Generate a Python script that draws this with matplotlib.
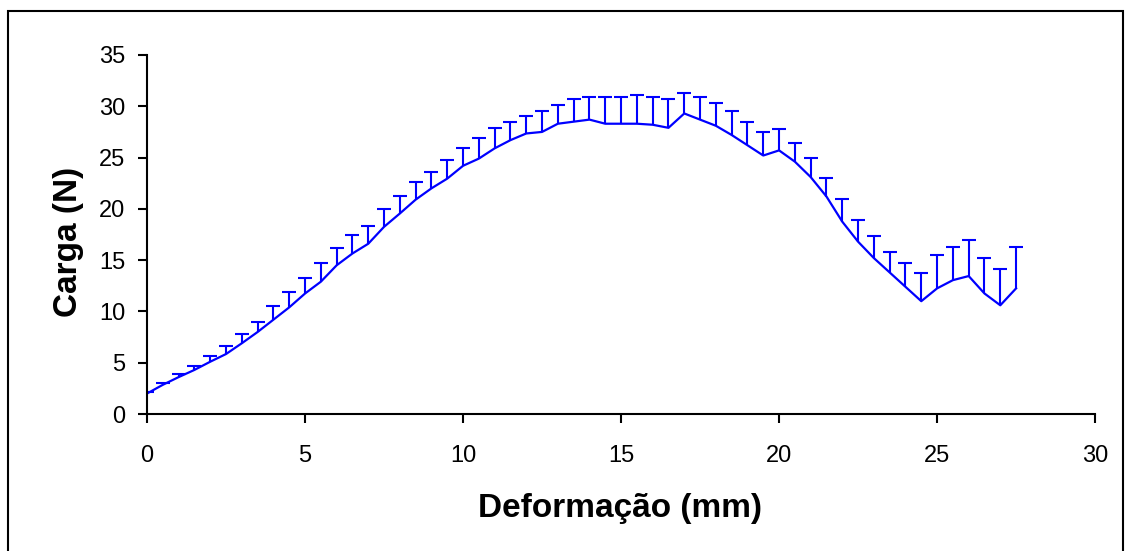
import numpy as np
import matplotlib
matplotlib.use("Agg")
import matplotlib.pyplot as plt
from matplotlib.patches import Rectangle

plt.rcParams['font.family'] = ['Liberation Sans', 'DejaVu Sans']

# deformation steps (mm) and mean load (N), with upper error per step
deformacao = np.arange(0, 28, 0.5)
carga = [2.0, 2.85, 3.6, 4.3, 5.1, 5.85, 6.9, 8.0, 9.2, 10.4,
         11.75, 12.9, 14.5, 15.65, 16.6, 18.25, 19.55, 20.9, 22.0, 22.95,
         24.2, 24.9, 25.9, 26.7, 27.35, 27.5, 28.3, 28.5, 28.7, 28.3,
         28.3, 28.3, 28.2, 27.9, 29.3, 28.7, 28.1, 27.2, 26.2, 25.2,
         25.7, 24.6, 23.1, 21.2, 18.75, 16.8, 15.2, 13.8, 12.4, 11.0,
         12.25, 13.05, 13.45, 11.75, 10.6, 12.25]
erro = [0.1, 0.2, 0.3, 0.4, 0.55, 0.8, 0.9, 1.0, 1.3, 1.5,
        1.55, 1.8, 1.7, 1.85, 1.7, 1.7, 1.7, 1.7, 1.6, 1.8,
        1.7, 2.0, 1.95, 1.8, 1.75, 2.0, 1.8, 2.2, 2.2, 2.6,
        2.6, 2.8, 2.7, 2.8, 1.95, 2.2, 2.2, 2.3, 2.3, 2.3,
        2.05, 1.8, 1.9, 1.8, 2.2, 2.1, 2.2, 2.0, 2.3, 2.7,
        3.25, 3.2, 3.5, 3.5, 3.5, 4.0]

carga = np.array(carga)
topo = carga + np.array(erro)

fig = plt.figure(figsize=(11.32, 5.51), dpi=100)
ax = fig.add_axes([0.1299, 0.2486, 0.8375, 0.6516])

azul = '#0000ff'
ax.plot(deformacao, carga, color=azul, lw=1.6)
# only the upper half of each error bar, with a cap on top
ax.vlines(deformacao, carga, topo, color=azul, lw=1.5)
ax.plot(deformacao, topo, ls='none', marker='_', ms=10.5, mew=1.5, color=azul)

ax.set_xlim(0, 30)
ax.set_ylim(0, 35)
ax.set_xticks(range(0, 31, 5))
ax.set_yticks(range(0, 36, 5))
ax.spines['top'].set_visible(False)
ax.spines['right'].set_visible(False)
for s in ['left', 'bottom']:
    ax.spines[s].set_linewidth(1.5)
ax.tick_params(direction='out', length=6.5, width=1.5, labelsize=17)
ax.tick_params(axis='x', pad=16)
ax.tick_params(axis='y', pad=9)

fig.text(619.5 / 1132, 1 - 517 / 551, 'Deformação (mm)', fontsize=24,
         fontweight='bold', ha='center', va='baseline')
fig.text(77 / 1132, 1 - 242 / 551, 'Carga (N)', fontsize=24,
         fontweight='bold', ha='center', va='baseline',
         rotation=90, rotation_mode='anchor')

# chart border, its lower edge runs past the bottom of the image
fig.patches.append(Rectangle((8 / 1132, -0.05), 1115 / 1132, 1.05 - 11 / 551,
                             transform=fig.transFigure, fill=False,
                             edgecolor='black', lw=1.5))

fig.savefig('out.png', dpi=100)
